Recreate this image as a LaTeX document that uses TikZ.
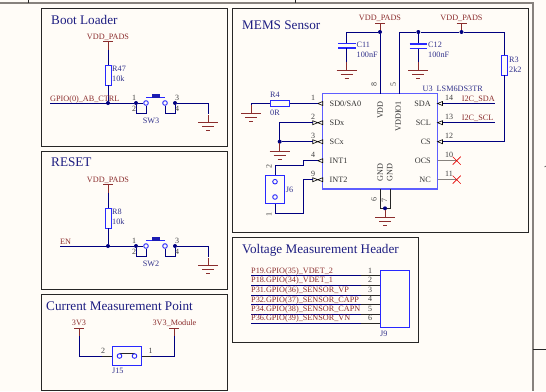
\documentclass[tikz,border=0pt]{standalone}
\usepackage{fontspec}
\setmainfont{Liberation Serif}
\definecolor{paper}{RGB}{255,252,247}
\definecolor{wirecol}{RGB}{0,0,128}
\definecolor{netcol}{RGB}{139,45,45}
\definecolor{refcol}{RGB}{50,50,140}
\definecolor{titlecol}{RGB}{30,30,130}
\definecolor{partcol}{RGB}{40,40,255}
\definecolor{graycol}{RGB}{135,130,125}
\tikzset{
  panel/.style={draw=black!85, line width=1pt},
  outerline/.style={draw=graycol, line width=1.6pt},
  wire/.style={draw=wirecol, line width=.8pt},
  pinline/.style={draw=black!85, line width=.8pt},
  title/.style={anchor=west, text=titlecol, inner sep=0pt, text height=9pt, text depth=0pt, font=\fontsize{13.2}{13.2}\selectfont},
  net/.style={text=netcol, inner sep=0pt, text height=5.5pt, text depth=0pt, font=\fontsize{8.2}{8.2}\selectfont},
  netl/.style={net, anchor=west},
  refl/.style={anchor=west, text=refcol, inner sep=0pt, text height=5.5pt, text depth=0pt, font=\fontsize{8.2}{8.2}\selectfont},
  pinno/.style={text=black!75, inner sep=0pt, font=\fontsize{8}{8}\selectfont},
  pinname/.style={text=black!80, inner sep=0pt, text height=5.5pt, text depth=0pt, font=\fontsize{8.2}{8.2}\selectfont},
  part/.style={draw=partcol, line width=.9pt, fill=paper, inner sep=0pt},
  resv/.style={part, minimum width=6pt, minimum height=20pt},
  resh/.style={part, minimum width=19.5pt, minimum height=6pt},
  dot/.style={circle, fill=wirecol, inner sep=0pt, minimum size=4pt},
  ring/.style={circle, draw=partcol, line width=.9pt, fill=paper, inner sep=0pt, minimum size=4.6pt},
  plate/.style={draw=partcol, line width=1.1pt},
  pics/gnd/.style={code={
    \draw[netcol, line width=.8pt] (0,-8) -- (0,0);
    \draw[netcol, line width=.9pt] (-10,0) -- (10,0) (-6,4) -- (6,4) (-2,8) -- (2,8);
  }},
  pics/vcc/.style={code={
    \draw[netcol, line width=.8pt] (-5,0) -- (5,0) (0,0) -- (0,8);
  }},
  pics/tipin/.style={code={
    \draw[black, line width=.6pt, fill=paper] (0,0) -- (5,-2) -- (5,2) -- cycle;
  }},
  pics/tipout/.style={code={
    \draw[black, line width=.6pt, fill=paper] (0,0) -- (-5,-2) -- (-5,2) -- cycle;
  }}
}
\begin{document}
\begin{tikzpicture}[x=1pt, y=-1pt]
  \path[fill=paper] (0,0) rectangle (546,391);
  \useasboundingbox (0,0) rectangle (546,391);

  % outer sheet lines
  \coordinate (sheetTL) at (0,3);
  \coordinate (sheetTR) at (533,3);
  \coordinate (sheetBR) at (533,391);
  \draw[outerline] (sheetTL) -- (sheetTR) -- (sheetBR);
  \draw[black!85, line width=.8pt] (28,0) -- (28,3) (295,0) -- (295,3) (533,349) -- (546,349);
  \draw[black!70, line width=.6pt] (544.5,167) -- (546,166);

  % panels
  \draw[panel] (41,8) rectangle (227,146);
  \draw[panel] (41,151) rectangle (227,289);
  \draw[panel] (41,294) rectangle (227,390);
  \draw[panel] (232,8) rectangle (528,232);
  \draw[panel] (232,237) rectangle (418,342);

  \node[title] at (51,20) {Boot Loader};
  \node[title] at (51,162) {RESET};
  \node[title] at (46,305.5) {Current Measurement Point};
  \node[title] at (242,25) {MEMS Sensor};
  \node[title] at (242,248.5) {Voltage Measurement Header};

  % boot loader and reset share one drawing
  \foreach \dy/\rname/\swname/\wstart/\netname in {0/R47/SW3/50/{GPIO(0)\_AB\_CTRL}, 143/R8/SW2/60/{EN}} {
    \begin{scope}[shift={(0,\dy)}]
      \node[net] at (108,37) {VDD\_PADS};
      \pic at (108,41.5) {vcc};
      \node[resv] (res) at (108,75) {};
      \node[refl] at (112,69) {\rname};
      \node[refl] at (112,79) {10k};
      \node[dot] (tap) at (108,103) {};
      \node[dot] (swa) at (136,103) {};
      \node[dot] (swb) at (175,103) {};
      \node[ring] (swc) at (146,103) {};
      \node[ring] (swd) at (165,103) {};
      \coordinate (wl) at (\wstart,103);
      \coordinate (gnode) at (208,114);
      \draw[wire] (108,49.5) -- (res.north);
      \draw[wire] (res.south) -- (tap);
      \draw[wire] (wl) -- (swa) -- (swc);
      \draw[wire] (swa) -- ++(0,10.5) -| (swc);
      \draw[wire] (swb) -- ++(0,10.5) -| (swd);
      \draw[wire] (swb) -| (gnode);
      \pic at (208,122.5) {gnd};
      \draw[plate] (146,97.5) -- (165,97.5);
      \fill[partcol!70!black] (151.5,94) rectangle (160,97.5);
      \node[netl] at (\wstart,99) {\netname};
      \node[pinno] at (134,98) {1};
      \node[pinno] at (134,109) {2};
      \node[pinno] at (177,98) {3};
      \node[pinno] at (177,109) {4};
      \node[text=refcol, inner sep=0pt, font=\fontsize{8.2}{8.2}\selectfont] at (151,121) {\swname};
    \end{scope}
  }

  % current measurement point
  \node[net] at (79,323) {3V3};
  \node[net] at (174.5,323) {3V3\_Module};
  \pic at (79,328) {vcc};
  \pic at (174,328) {vcc};
  \node[part, minimum width=28.5pt, minimum height=18.5pt] (J15) at (127,356) {};
  \coordinate (jla) at (79,336);
  \coordinate (jra) at (174,336);
  \draw[wire] (jla) |- (J15.west);
  \draw[wire] (jra) |- (J15.east);
  \draw[pinline] (102,356) -- (J15.west) (J15.east) -- (151,356);
  \draw[black!85, line width=.7pt] (119.5,353.5) -- (134.5,353.5);
  \node[ring] at (119.5,356) {};
  \node[ring] at (134.5,356) {};
  \node[pinno] at (103,351) {2};
  \node[pinno] at (150.5,351) {1};
  \node[refl] at (112,371) {J15};

  % U3
  \node[draw=partcol!75, line width=1.1pt, fill=paper, minimum width=114.5pt, minimum height=95.5pt, inner sep=0pt] (U3) at (380,141.25) {};
  \node[refl] at (422.5,89) {U3\hspace{4pt}LSM6DS3TR};
  \foreach \yy/\nm in {103.5/SD0\slash SA0, 122.7/SDx, 141.7/SCx, 160.7/INT1, 179.7/INT2}
    \node[pinname, anchor=west] at (329.5,\yy) {\nm};
  \foreach \yy/\nm in {103.5/SDA, 122.7/SCL, 141.7/CS, 160.7/OCS, 179.7/NC}
    \node[pinname, anchor=east] at (431,\yy) {\nm};
  \node[pinname, rotate=90, anchor=east] at (380,101) {VDD};
  \node[pinname, rotate=90, anchor=east] at (398,101) {VDDIO1};
  \node[pinname, rotate=90, anchor=west] at (380,182) {GND};
  \node[pinname, rotate=90, anchor=west] at (389.5,182) {GND};

  % left pins
  \foreach \yy/\no in {103.5/1, 122.7/2, 141.7/3, 160.7/4, 179.7/9}
    \node[pinno] at (313,\yy-5.5) {\no};
  \foreach \yy in {103.5, 160.7}
    \pic at (317.7,\yy) {tipin};
  \foreach \yy in {122.7, 141.7, 179.7} {
    \pic at (317.7,\yy) {tipin};
    \pic at (317.7,\yy) {tipout};
  }
  % right pins
  \foreach \yy/\no in {103.5/14, 122.7/13, 141.7/12, 160.7/10, 179.7/11}
    \node[pinno] at (449,\yy-5.5) {\no};
  \foreach \yy in {103.5, 122.7, 141.7}
    \pic at (437.5,\yy) {tipin};

  % power rail
  \node[net] at (380,18) {VDD\_PADS};
  \node[net] at (461.5,18) {VDD\_PADS};
  \pic at (380,23) {vcc};
  \pic at (461.5,23) {vcc};
  \node[dot] (topa) at (380,32) {};
  \node[dot] (topb) at (418.3,32) {};
  \node[dot] (topc) at (461.5,32) {};
  \coordinate (c11top) at (346.7,43.5);
  \coordinate (c12top) at (418.3,44);
  \coordinate (vio) at (399,93.5);
  \coordinate (vdd) at (380,93.5);
  \coordinate (railR) at (504,32);
  \node[resv] (R3) at (504,65) {};
  \draw[wire] (c11top) |- (topa);
  \draw[wire] (topa) -- (vdd);
  \draw[wire] (vio) |- (topb) -- (topc) -- (railR) -- (R3.north);
  \draw[wire] (topb) -- (c12top);
  \draw[wire] (R3.south) |- (443,141.7);
  \draw[plate] (338,43.5) -- (355.5,43.5) (338,48) -- (355.5,48);
  \draw[plate] (409.5,44) -- (427,44) (409.5,48.5) -- (427,48.5);
  \draw[wire] (346.7,48) -- (346.7,62);
  \draw[wire] (418.3,48.5) -- (418.3,62);
  \pic at (346.7,70) {gnd};
  \pic at (418.3,70) {gnd};
  \node[refl] at (356.5,45) {C11};
  \node[refl] at (356.5,55) {100nF};
  \node[refl] at (428,45) {C12};
  \node[refl] at (428,55) {100nF};
  \node[refl] at (509,60) {R3};
  \node[refl] at (509,69.5) {2k2};
  \node[pinno, rotate=90] at (374,84) {8};
  \node[pinno, rotate=90] at (393.3,84) {5};

  % R4 and left side
  \node[resh] (R4) at (279.7,103.5) {};
  \coordinate (r4in) at (322.7,103.5);
  \coordinate (r4gnd) at (251,105);
  \draw[wire] (R4.west) -| (r4gnd);
  \draw[wire] (R4.east) -- (318,103.5);
  \pic at (251,113) {gnd};
  \node[refl] at (270,95) {R4};
  \node[refl] at (270,112.7) {0R};

  \node[dot] (scx) at (279.7,141.7) {};
  \coordinate (sdx) at (313,122.7);
  \coordinate (scxpin) at (313,141.7);
  \draw[wire] (sdx) -| (scx);
  \draw[wire] (scx) -- (scxpin);
  \draw[wire] (scx) -- (279.7,143);
  \pic at (279.7,151) {gnd};

  % J6
  \node[part, minimum width=19pt, minimum height=28.5pt] (J6) at (275,189.2) {};
  \node[ring] at (275,181.7) {};
  \node[ring] at (275,197) {};
  \node[refl] at (285.7,190) {J6};
  \node[pinno, rotate=90] at (269,166) {2};
  \node[pinno, rotate=90] at (269,214) {1};
  \coordinate (int1) at (318,160.7);
  \coordinate (int2) at (313,179.7);
  \draw[wire] (int1) -- (303.7,160.7) |- (275,165.3) -- (J6.north);
  \draw[wire] (int2) -- (303.7,179.7) |- (275,213.5) -- (J6.south);

  % bottom gnd
  \node[dot] (gndj) at (385,208.3) {};
  \draw[pinline] (380,189) |- (gndj) -| (390,189);
  \pic at (385,217.5) {gnd};
  \node[pinno, rotate=90] at (374,199) {6};
  \node[pinno, rotate=90] at (384.5,200) {7};

  % right side nets
  \coordinate (sdaend) at (495,103.5);
  \coordinate (sclend) at (495,122.7);
  \draw[wire] (442.5,103.5) -- (sdaend);
  \draw[wire] (442.5,122.7) -- (sclend);
  \node[netl] at (461.7,99) {I2C\_SDA};
  \node[netl] at (461.7,118) {I2C\_SCL};
  \foreach \yy in {160.7, 179.7} {
    \draw[graycol, line width=1.2pt] (437.5,\yy) -- (456.7,\yy);
    \draw[red!90!black, line width=.7pt] (452.7,\yy-4) -- (460.7,\yy+4) (452.7,\yy+4) -- (460.7,\yy-4);
  }

  % voltage header
  \node[part, minimum width=29pt, minimum height=57.5pt] (J9) at (394.7,299) {};
  \node[refl] at (380,334) {J9};
  \foreach \yy/\no/\nm in {270.7/1/{P19.GPIO(35)\_VDET\_2}, 280/2/{P18.GPIO(34)\_VDET\_1}, 290/3/{P31.GPIO(36)\_SENSOR\_VP}, 299.3/4/{P32.GPIO(37)\_SENSOR\_CAPP}, 309/5/{P34.GPIO(38)\_SENSOR\_CAPN}, 318/6/{P36.GPIO(39)\_SENSOR\_VN}} {
    \node[netl] at (251,\yy) {\nm};
    \node[pinno] at (370,\yy) {\no};
    \draw[wire] (251,\yy+5) -- (361,\yy+5);
    \draw[pinline] (361,\yy+5) -- (380,\yy+5);
  }
\end{tikzpicture}
\end{document}
